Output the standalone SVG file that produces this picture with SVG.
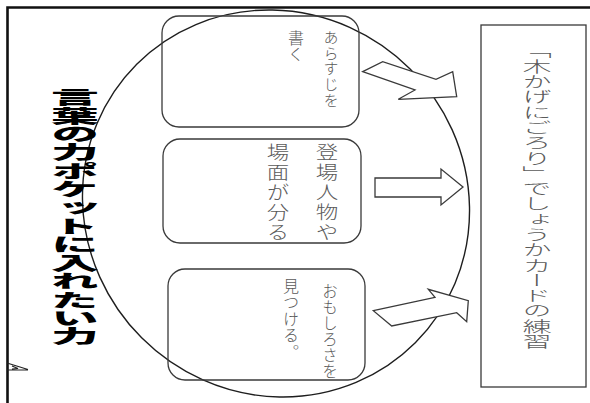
<svg xmlns="http://www.w3.org/2000/svg" width="590" height="403" viewBox="0 0 590 403">
<style>
.frame{stroke:#111;stroke-width:2.6;fill:none}
.box{fill:none;stroke:#3a3a3a;stroke-width:1.3}
.oval{fill:none;stroke:#1e1e1e;stroke-width:1.4}
.arrow{fill:#fff;stroke:#3a3a3a;stroke-width:1.3;stroke-linejoin:miter}
.hand{font-family:"Noto Sans CJK JP","Noto Sans",sans-serif;font-weight:300;fill:#5a5a5a;writing-mode:vertical-rl}
.title{font-family:"Noto Sans CJK JP","Noto Sans",sans-serif;font-weight:900;fill:#000;writing-mode:vertical-rl}
</style>
<rect width="590" height="403" fill="#fff"/>
<g id="frame">
<path class="frame" d="M7.5 403 V7.5 H590"/>
<path d="M7 363 L28 369.5 M7 370 H28 M12 366 L18 368.5 L12 369" fill="none" stroke="#222" stroke-width="1.2"/>
</g>
<g id="pocket">
<ellipse class="oval" cx="276" cy="203.5" rx="197" ry="190" transform="rotate(45 276 203.5)"/>
</g>
<g id="title">
<text class="title" x="75" y="88" font-size="18.4" transform="translate(75 0) scale(2.6 1) translate(-75 0)">言葉の力ポケットに入れたい力</text>
</g>
<g id="box1">
<rect class="box" x="162" y="16" width="197" height="111" rx="17"/>
<text class="hand" x="331" y="30" font-size="15" letter-spacing="0.6">あらすじを</text>
<text class="hand" x="296" y="30" font-size="16">書く</text>
</g>
<g id="box2">
<rect class="box" x="163" y="139" width="198" height="104" rx="17"/>
<text class="hand" x="327" y="143" font-size="18" letter-spacing="2" transform="translate(327 0) scale(1.25 1) translate(-327 0)">登場人物や</text>
<text class="hand" x="278" y="143" font-size="18" letter-spacing="2" transform="translate(278 0) scale(1.25 1) translate(-278 0)">場面が分る</text>
</g>
<g id="box3">
<rect class="box" x="168" y="269" width="197" height="111" rx="17"/>
<text class="hand" x="330" y="283" font-size="15.5" letter-spacing="0.5">おもしろさを</text>
<text class="hand" x="291" y="278" font-size="16" letter-spacing="0.4">見つける。</text>
</g>
<g id="goal">
<rect class="box" x="481" y="25" width="105" height="362"/>
<text class="hand" x="537" y="43" font-size="15.3" transform="translate(537 0) scale(1.9 1) translate(-537 0)">「木かげにごろり」でしょうかカードの練習</text>
</g>
<g id="connectors">
<polygon class="arrow" points="362.7,71.7 382.7,61.7 436,79.3 452.7,71.7 456.7,96.7 398.3,99.3 415,90"/>
<polygon class="arrow" points="375,178 441,178 441,169 463,187 441,205 441,197 375,197"/>
<polygon class="arrow" points="373.3,310.7 435,297.3 428.3,289.3 468.3,300.7 466.7,321.7 456.7,312.7 391.7,326"/>
</g>
</svg>
